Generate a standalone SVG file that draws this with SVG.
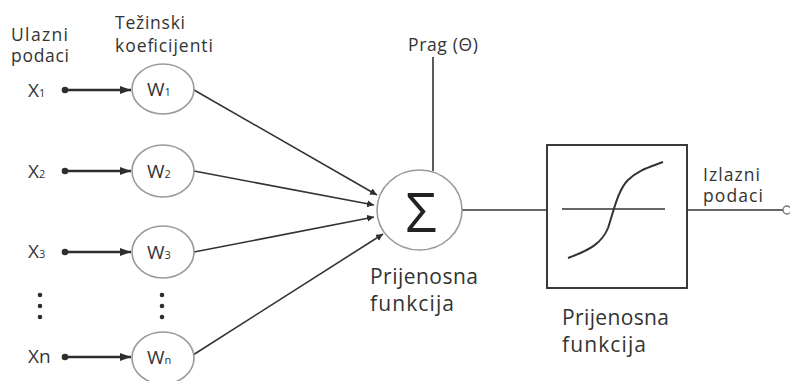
<svg xmlns="http://www.w3.org/2000/svg" width="790" height="381" viewBox="0 0 790 381">
<style>
text{font-family:"Open Sans","Noto Sans","Liberation Sans",sans-serif;fill:#333}
.lbl{font-size:17.5px}
.big{font-size:21px}
.x{font-size:19px}
.sub{font-size:11px}
.node{fill:#fff;stroke:#9a9a9a;stroke-width:1.6}
.in{stroke:#2e2e2e;stroke-width:2.6;fill:none}
.wire{stroke:#333;stroke-width:1.6;fill:none}
.dot{fill:#2e2e2e}
</style>
<defs>
<marker id="ah" markerUnits="userSpaceOnUse" markerWidth="12" markerHeight="10" refX="11" refY="4" orient="auto">
<path d="M0,0 L11,4 L0,8 Z" fill="#2e2e2e"/>
</marker>
<marker id="as" markerUnits="userSpaceOnUse" markerWidth="8" markerHeight="8" refX="7" refY="3.5" orient="auto">
<path d="M0,0 L7,3.5 L0,7 Z" fill="#2e2e2e"/>
</marker>
</defs>
<rect width="790" height="381" fill="#fff"/>

<g id="labels">
<text class="lbl" x="11" y="41" textLength="57" lengthAdjust="spacing">Ulazni</text>
<text class="lbl" x="11" y="62" textLength="58" lengthAdjust="spacing">podaci</text>
<text class="lbl" x="115" y="29" textLength="70" lengthAdjust="spacing">Težinski</text>
<text class="lbl" x="115" y="52" textLength="98" lengthAdjust="spacing">koeficijenti</text>
<text class="lbl" x="408" y="51" textLength="70" lengthAdjust="spacing">Prag (Θ)</text>
<text class="lbl" x="703" y="181" textLength="57" lengthAdjust="spacing">Izlazni</text>
<text class="lbl" x="703" y="202" textLength="60" lengthAdjust="spacing">podaci</text>
</g>

<g id="inputs">
<text class="x" x="28" y="97">X<tspan class="sub">1</tspan></text>
<text class="x" x="28" y="178">X<tspan class="sub">2</tspan></text>
<text class="x" x="28" y="258">X<tspan class="sub">3</tspan></text>
<text class="x" x="28" y="363">Xn</text>
<g id="dots-left" class="dot">
<circle cx="40" cy="295" r="2.3"/><circle cx="40" cy="306" r="2.3"/><circle cx="40" cy="317" r="2.3"/>
</g>
</g>

<g id="connectors">
<circle class="dot" cx="65" cy="90" r="3.3"/>
<circle class="dot" cx="65" cy="171" r="3.3"/>
<circle class="dot" cx="65" cy="252" r="3.3"/>
<circle class="dot" cx="65" cy="357" r="3.3"/>
<line class="in" x1="65" y1="90" x2="131" y2="90" marker-end="url(#ah)"/>
<line class="in" x1="65" y1="171" x2="131" y2="171" marker-end="url(#ah)"/>
<line class="in" x1="65" y1="252" x2="131" y2="252" marker-end="url(#ah)"/>
<line class="in" x1="65" y1="357" x2="131" y2="357" marker-end="url(#ah)"/>
<line class="wire" x1="194" y1="90" x2="377" y2="195" marker-end="url(#as)"/>
<line class="wire" x1="194" y1="171" x2="374" y2="205" marker-end="url(#as)"/>
<line class="wire" x1="194" y1="252" x2="374" y2="217" marker-end="url(#as)"/>
<line class="wire" x1="193" y1="355" x2="383" y2="234" marker-end="url(#as)"/>
<line class="wire" x1="433" y1="57" x2="433" y2="171"/>
<line class="wire" x1="462" y1="210" x2="547" y2="210"/>
<line class="wire" x1="687" y1="210" x2="783" y2="210"/>
<circle cx="787" cy="210" r="4" fill="#fff" stroke="#777" stroke-width="1.4"/>
</g>

<g id="w1"><ellipse class="node" cx="163" cy="89" rx="31" ry="25"/><text class="x" x="147" y="96">W<tspan class="sub">1</tspan></text></g>
<g id="w2"><ellipse class="node" cx="163" cy="171" rx="31" ry="26"/><text class="x" x="147" y="178">W<tspan class="sub">2</tspan></text></g>
<g id="w3"><ellipse class="node" cx="163" cy="252" rx="31" ry="26"/><text class="x" x="147" y="259">W<tspan class="sub">3</tspan></text></g>
<g id="dots-mid" class="dot">
<circle cx="162" cy="295" r="2.3"/><circle cx="162" cy="306" r="2.3"/><circle cx="162" cy="317" r="2.3"/>
</g>
<g id="wn"><ellipse class="node" cx="163" cy="358" rx="31" ry="26"/><text class="x" x="147" y="364">W<tspan class="sub">n</tspan></text></g>

<g id="sum">
<ellipse class="node" cx="419.5" cy="210" rx="42.5" ry="40"/>
<text x="421" y="232" text-anchor="middle" style="font-size:55px;fill:#222">Σ</text>
<text class="big" x="370" y="284" textLength="108" lengthAdjust="spacing">Prijenosna</text>
<text class="big" x="370" y="311" textLength="84" lengthAdjust="spacing">funkcija</text>
</g>

<g id="activation">
<rect x="547" y="145" width="140" height="143" fill="#fff" stroke="#3a3a3a" stroke-width="2"/>
<line x1="562" y1="209" x2="665" y2="209" stroke="#333" stroke-width="1.6"/>
<path d="M568,258 C590,250 602,243 608,228 C614,210 618,190 628,180 C638,170 650,167 663,162" fill="none" stroke="#333" stroke-width="2"/>
<text class="big" x="562" y="325" textLength="107" lengthAdjust="spacing">Prijenosna</text>
<text class="big" x="562" y="352" textLength="84" lengthAdjust="spacing">funkcija</text>
</g>
</svg>
